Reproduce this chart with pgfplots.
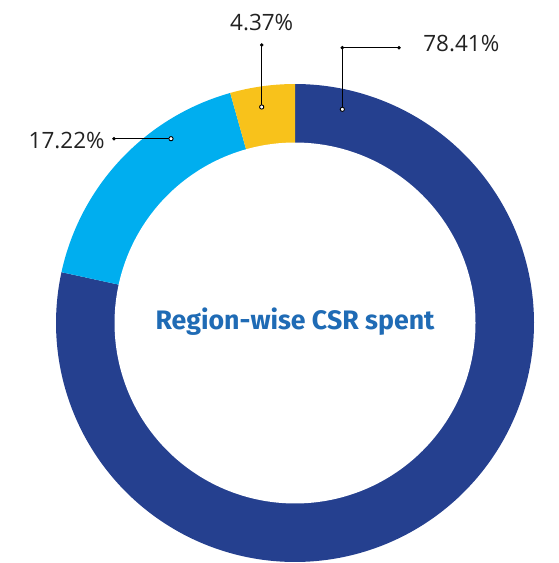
\documentclass[border=0pt]{standalone}
\usepackage{pgfplots}
\pgfplotsset{compat=1.18}
\usepackage{fontspec}
\setmainfont{Open Sans}
\newfontfamily\titlefont{Fira Sans}

\definecolor{csrdark}{HTML}{25408F}
\definecolor{csrlight}{HTML}{00AEEF}
\definecolor{csryellow}{HTML}{F8C21B}
\definecolor{csrtitle}{HTML}{1F6BB5}
\definecolor{txt}{HTML}{222222}

% shares in percent, clockwise from 12 o'clock
\def\shareA{78.41}
\def\shareB{17.22}
\def\shareC{4.37}
\def\Rout{239}
\def\Rin{180.5}

\pgfmathsetmacro{\aStart}{90-3.6*\shareA}
\pgfmathsetmacro{\bEnd}{90-3.6*\shareA+360}
\pgfmathsetmacro{\bStart}{\bEnd-3.6*\shareB}

\begin{document}
\begin{tikzpicture}
\begin{axis}[
    hide axis, scale only axis,
    width=11.16cm, height=11.26cm,
    xmin=-295, xmax=263, ymin=-240, ymax=323,
    clip=false,
]
\path (rel axis cs:0,0) rectangle (rel axis cs:1,1);

% ring segments (sectors, centre covered by white disc)
\addplot[fill=csrdark, draw=none, domain=\aStart:90, samples=240]
    ({\Rout*cos(x)},{\Rout*sin(x)}) -- (axis cs:0,0) -- cycle;
\addplot[fill=csrlight, draw=none, domain=\bStart:\bEnd, samples=80]
    ({\Rout*cos(x)},{\Rout*sin(x)}) -- (axis cs:0,0) -- cycle;
\addplot[fill=csryellow, draw=none, domain=90:\bStart, samples=30]
    ({\Rout*cos(x)},{\Rout*sin(x)}) -- (axis cs:0,0) -- cycle;
\addplot[fill=white, draw=none, domain=0:360, samples=240]
    ({\Rin*cos(x)},{\Rin*sin(x)}) -- cycle;

% leader lines
\addplot[draw=black, line width=0.6pt] coordinates {(47.3,213.7) (47.3,275.3) (104,275.3)};
\addplot[draw=black, line width=0.6pt] coordinates {(-33.3,216) (-33.3,278)};
\addplot[draw=black, line width=0.6pt] coordinates {(-124,184.3) (-181,184.3)};
\addplot[only marks, mark=*, mark size=0.8pt, black]
    coordinates {(47.3,275.3) (104,275.3) (-33.3,278) (-181,184.3)};
\addplot[only marks, mark=*, mark size=1.2pt, mark options={draw=black, fill=white, line width=0.5pt}]
    coordinates {(47.3,213.7) (-33.3,216) (-124,184.3)};

\node[anchor=base west, inner sep=0, font=\fontsize{12.8}{15}\selectfont, text=txt] at (axis cs:128,271) {78.41\%};
\node[anchor=base, inner sep=0, font=\fontsize{12.8}{15}\selectfont, text=txt] at (axis cs:-33.3,293) {4.37\%};
\node[anchor=base east, inner sep=0, font=\fontsize{12.8}{15}\selectfont, text=txt] at (axis cs:-190,174.7) {17.22\%};

\node[anchor=base, inner sep=0, font=\titlefont\bfseries\fontsize{15.2}{18}\selectfont, text=csrtitle] at (axis cs:0,-6.3) {Region-wise CSR spent};
\end{axis}
\end{tikzpicture}
\end{document}
